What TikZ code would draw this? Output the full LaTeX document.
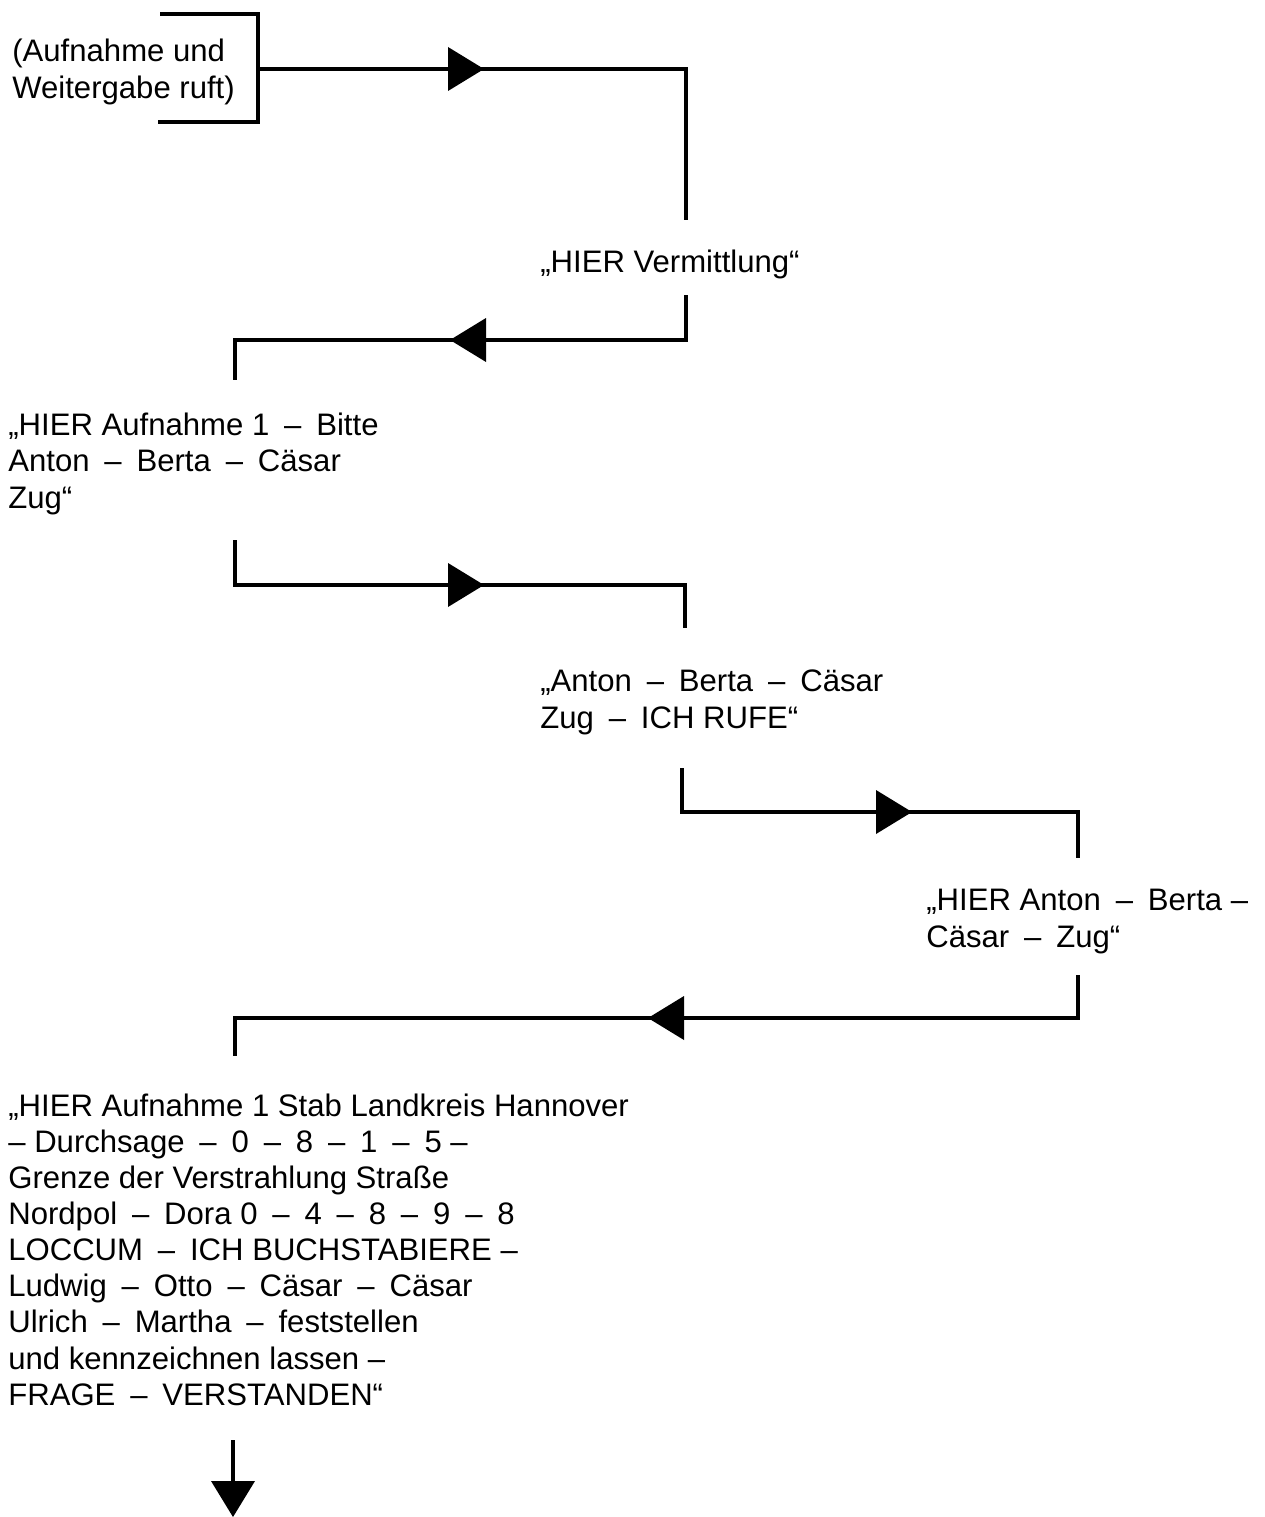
\documentclass[tikz,border=0pt]{standalone}
\usepackage{fontspec}
\setmainfont{Liberation Sans}
% spaced dash between the spelled-out words
\newcommand\dd{\hspace{.2em}–\hspace{.2em}}
\begin{document}
\begin{tikzpicture}[x=0.02cm,y=-0.02cm,
  wire/.style={line width=2pt, line join=miter},
  msg/.style={anchor=base west, inner sep=0pt, align=left,
              font=\fontsize{17.7pt}{20.5pt}\selectfont},
  tri/.pic={\fill (0,0) -- (-36,22) -- (-36,-22) -- cycle;}]
\useasboundingbox (0,0) rectangle (1264,1517);

% messages (each placed by the baseline of its last line)
\node[msg, font=\fontsize{17.7pt}{21.5pt}\selectfont] (caller) at (12,99)
  {(Aufnahme und\\Weitergabe ruft)};
\node[msg] (vermittlung) at (540,272) {„HIER Vermittlung“};
\node[msg] (aufnahme) at (8,508) {„HIER Aufnahme 1 \dd{} Bitte\\Anton \dd{} Berta \dd{} Cäsar\\Zug“};
\node[msg] (rufe) at (540,728) {„Anton \dd{} Berta \dd{} Cäsar\\Zug \dd{} ICH RUFE“};
\node[msg] (zug) at (926,947) {„HIER Anton \dd{} Berta –\\Cäsar \dd{} Zug“};
\node[msg] (durchsage) at (8,1405) {„HIER Aufnahme 1 Stab Landkreis Hannover\\
– Durchsage \dd{} 0 \dd{} 8 \dd{} 1 \dd{} 5 –\\
Grenze der Verstrahlung Straße\\
Nordpol \dd{} Dora 0 \dd{} 4 \dd{} 8 \dd{} 9 \dd{} 8\\
LOCCUM \dd{} ICH BUCHSTABIERE –\\
Ludwig \dd{} Otto \dd{} Cäsar \dd{} Cäsar\\
Ulrich \dd{} Martha \dd{} feststellen\\
und kennzeichnen lassen –\\
FRAGE \dd{} VERSTANDEN“};

% bracket round the caller
\draw[wire] (160,14) -- (258,14) -- (258,122) -- (158,122);

% connector ends
\coordinate (s1) at (258,69);   \coordinate (e1) at (686,220);
\coordinate (s2) at (686,295);  \coordinate (e2) at (235,380);
\coordinate (s3) at (235,540);  \coordinate (e3) at (685,628);
\coordinate (s4) at (682,768);  \coordinate (e4) at (1078,858);
\coordinate (s5) at (1078,975); \coordinate (e5) at (235,1056);
\coordinate (s6) at (233,1440); \coordinate (e6) at (233,1517);

% connectors
\draw[wire] (s1) -| (e1);
\pic at (484,69) {tri};
\draw[wire] (s2) |- (235,340) -- (e2);
\pic[rotate=180] at (450,340) {tri};
\draw[wire] (s3) |- (685,585) -- (e3);
\pic at (484,585) {tri};
\draw[wire] (s4) |- (1078,812) -- (e4);
\pic at (912,812) {tri};
\draw[wire] (s5) |- (235,1018) -- (e5);
\pic[rotate=180] at (648,1018) {tri};
\draw[wire] (s6) -- (233,1484);
\pic[rotate=-90] at (e6) {tri};
\end{tikzpicture}
\end{document}
